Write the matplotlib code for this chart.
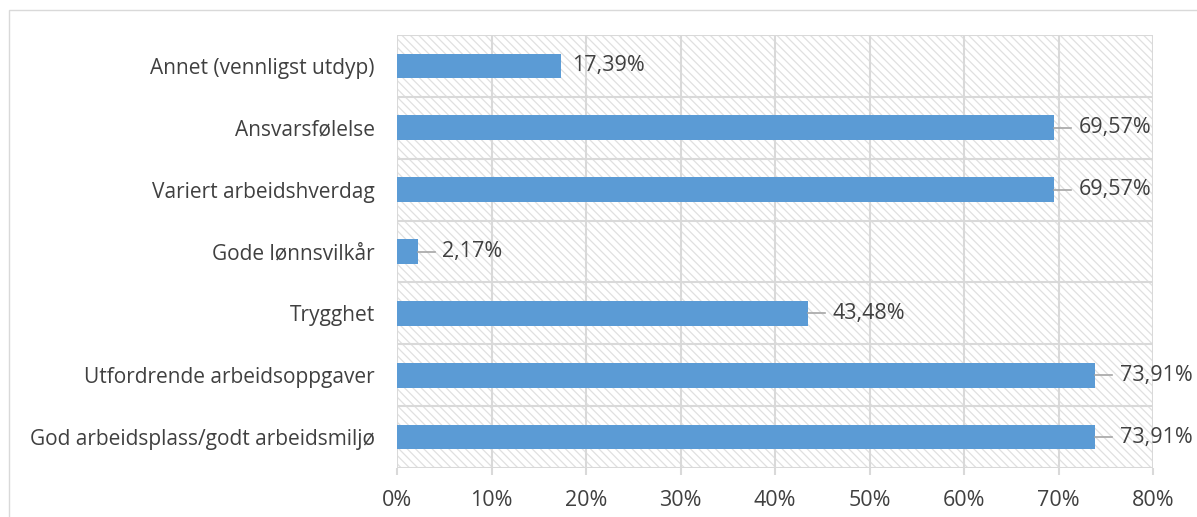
import matplotlib.pyplot as plt
from matplotlib.patches import Rectangle

# Survey answers, listed top to bottom as shown
categories = [
    'Annet (vennligst utdyp)',
    'Ansvarsfølelse',
    'Variert arbeidshverdag',
    'Gode lønnsvilkår',
    'Trygghet',
    'Utfordrende arbeidsoppgaver',
    'God arbeidsplass/godt arbeidsmiljø',
]
shares = [17.39, 69.57, 69.57, 2.17, 43.48, 73.91, 73.91]
x_ticks = [0, 10, 20, 30, 40, 50, 60, 70, 80]

bar_color = '#5B9BD5'
grid_color = '#D9D9D9'
text_color = '#404040'

plt.rcParams['font.family'] = ['Open Sans', 'DejaVu Sans']
plt.rcParams['hatch.linewidth'] = 0.9

fig = plt.figure(figsize=(11.97, 5.17), dpi=100)
fig.patches.append(Rectangle((9 / 1197, -0.1), 1.2, 1.1 - 10 / 517,
                             transform=fig.transFigure, fill=False,
                             edgecolor=grid_color, linewidth=1.0))
ax = fig.add_axes([397 / 1197, 1 - 468 / 517, 756 / 1197, 433 / 517])

n = len(categories)
ypos = list(range(n))

# hatched plot area background
ax.add_patch(Rectangle((0, -0.5), 80, n, facecolor='white', edgecolor='#E0E0E0',
                       linewidth=0, hatch='\\\\\\\\', zorder=0))

for x in x_ticks:
    ax.axvline(x, color=grid_color, linewidth=1.5, zorder=1)
for k in range(n + 1):
    ax.axhline(k - 0.5, color=grid_color, linewidth=1.5, zorder=1)

ax.barh(ypos, shares, height=0.4, color=bar_color, zorder=2)

for y, v in zip(ypos, shares):
    label = f'{v:.2f}%'.replace('.', ',')
    if 10 < v < 20:
        ax.text(v + 1.1, y, label, va='center', ha='left', fontsize=15.5,
                color=text_color)
    else:
        ax.plot([v, v + 1.8], [y, y], color='#A6A6A6', linewidth=1.2, zorder=2)
        ax.text(v + 2.6, y, label, va='center', ha='left', fontsize=15.5,
                color=text_color)

ax.set_xlim(0, 80)
ax.set_ylim(n - 0.5, -0.5)
ax.set_xticks(x_ticks)
ax.set_xticklabels([f'{t}%' for t in x_ticks], fontsize=15.5, color=text_color)
ax.set_yticks(ypos)
ax.set_yticklabels(categories, fontsize=15, color=text_color)
ax.tick_params(axis='x', length=5, width=1.5, color=grid_color, pad=11)
ax.tick_params(axis='y', length=0, pad=16)
for s in ax.spines.values():
    s.set_visible(False)

fig.savefig('out.png', dpi=100)
